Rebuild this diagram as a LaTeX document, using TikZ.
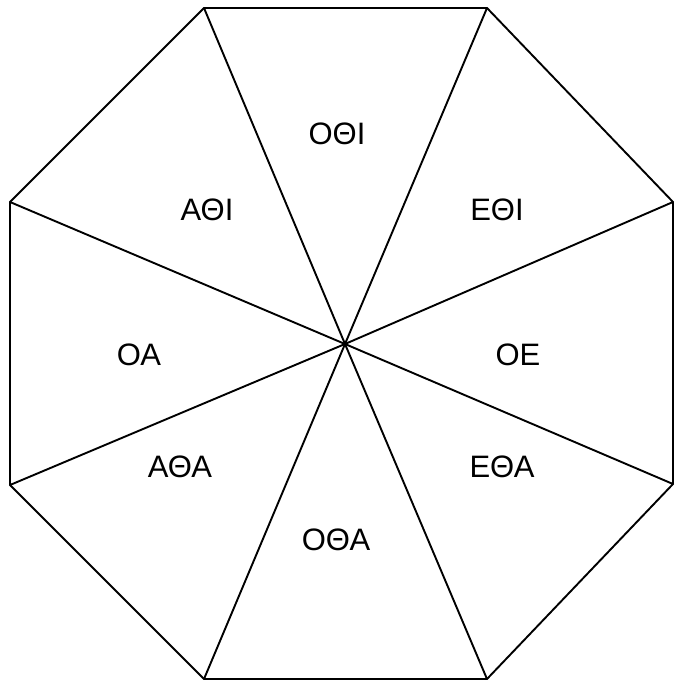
\documentclass[tikz,border=0pt]{standalone}
\usepackage{fontspec}
\setmainfont{Liberation Sans}
\begin{document}
\begin{tikzpicture}[x=1pt,y=-1pt,
  edge/.style={draw=black,line width=1.9pt,line join=miter},
  lbl/.style={font=\fontsize{31}{34}\selectfont,inner sep=0pt}]
\useasboundingbox (0,0) rectangle (674,682);
\coordinate (c) at (345,344);
\coordinate (tl) at (204,8);
\coordinate (tr) at (487,8);
\coordinate (rt) at (673,202);
\coordinate (rb) at (673,484);
\coordinate (br) at (487,679);
\coordinate (bl) at (204,679);
\coordinate (lb) at (10,485);
\coordinate (lt) at (10,202);
\draw[edge] (tl) -- (tr) -- (rt) -- (rb) -- (br) -- (bl) -- (lb) -- (lt) -- cycle;
\foreach \v in {tl,tr,rt,rb,br,bl,lb,lt} \draw[edge] (c) -- (\v);
\node[lbl] (n1) at (337,134) {ΟΘΙ};
\node[lbl] (n2) at (207,210) {ΑΘΙ};
\node[lbl] (n3) at (497,210) {ΕΘΙ};
\node[lbl] (n4) at (139,355) {ΟΑ};
\node[lbl] (n5) at (518,355) {ΟΕ};
\node[lbl] (n6) at (180,467) {ΑΘΑ};
\node[lbl] (n7) at (502,467) {ΕΘΑ};
\node[lbl] (n8) at (336,540) {ΟΘΑ};
\end{tikzpicture}
\end{document}
